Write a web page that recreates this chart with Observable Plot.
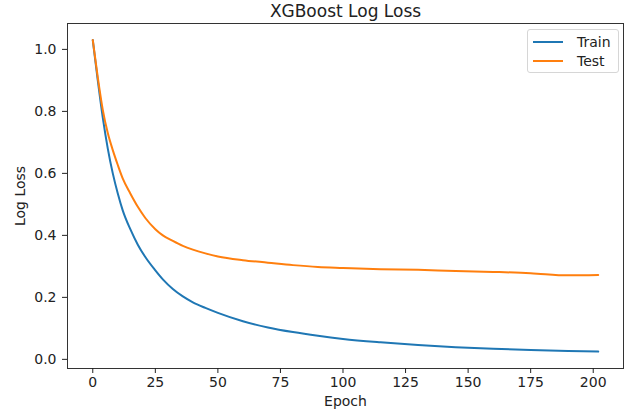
<!DOCTYPE html>
<html>
<head>
<meta charset="utf-8">
<script src="https://cdn.jsdelivr.net/npm/d3@7"></script>
<script src="https://cdn.jsdelivr.net/npm/@observablehq/plot@0.6"></script>
<style>
  html, body { margin: 0; padding: 0; background: #fff; }
  #wrap { position: relative; width: 624px; height: 411px; font-family: "DejaVu Sans", sans-serif; }
  #legend { position: absolute; left: 527px; top: 29px; width: 92px; height: 44px; box-sizing: border-box;
            border: 1px solid #d6d6d6; border-radius: 3px; background: rgba(255,255,255,0.85); font-size: 14px; color: #222; }
  .row { position: absolute; left: 5px; height: 18px; display: flex; align-items: center; }
  .sw { width: 30px; height: 0; border-top: 2px solid; margin-right: 14px; }
</style>
</head>
<body>
<div id="wrap"></div>
<script>
const title = "XGBoost Log Loss";
const xLabel = "Epoch";
const yLabel = "Log Loss";
const seriesNames = ["Train", "Test"];
const seriesColors = ["#1f77b4", "#ff7f0e"];
const epochs = [0, 2, 4, 6, 8, 10, 12, 15, 18, 21, 25, 28, 32, 36, 40, 45, 50, 60, 70, 80, 90, 100, 115, 130, 145, 160, 175, 190, 202];
const trainLoss = [1.03, 0.90, 0.78, 0.68, 0.60, 0.535, 0.48, 0.42, 0.37, 0.33, 0.287, 0.258, 0.227, 0.203, 0.184, 0.166, 0.150, 0.123, 0.103, 0.088, 0.076, 0.066, 0.055, 0.046, 0.039, 0.034, 0.030, 0.027, 0.025];
const testLoss = [1.03, 0.91, 0.805, 0.73, 0.675, 0.627, 0.583, 0.535, 0.492, 0.456, 0.42, 0.40, 0.382, 0.366, 0.354, 0.342, 0.332, 0.320, 0.312, 0.304, 0.298, 0.295, 0.291, 0.289, 0.285, 0.282, 0.278, 0.271, 0.272];
const xTicks = [0, 25, 50, 75, 100, 125, 150, 175, 200];
const yTicks = [0.0, 0.2, 0.4, 0.6, 0.8, 1.0];

const rows = [];
epochs.forEach((e, i) => {
  rows.push({epoch: e, loss: trainLoss[i], series: seriesNames[0]});
  rows.push({epoch: e, loss: testLoss[i], series: seriesNames[1]});
});

const chart = Plot.plot({
  width: 624,
  height: 411,
  marginLeft: 67,
  marginRight: 1,
  marginTop: 23,
  marginBottom: 43,
  style: {fontFamily: "DejaVu Sans, sans-serif", fontSize: "14px", color: "#222", background: "#fff", overflow: "visible"},
  x: {domain: [-10.1, 212.1]},
  y: {domain: [-0.0295, 1.0835]},
  color: {domain: seriesNames, range: seriesColors},
  marks: [
    Plot.frame({stroke: "#333", strokeWidth: 1}),
    Plot.axisX({ticks: xTicks, tickSize: 5, tickPadding: 4, tickFormat: d => String(d), label: xLabel, labelAnchor: "center", labelArrow: "none", labelOffset: 37, fontSize: 14}),
    Plot.axisY({ticks: yTicks, tickSize: 5, tickPadding: 6, tickFormat: d => d.toFixed(1), label: yLabel, labelAnchor: "center", labelArrow: "none", labelOffset: 52, fontSize: 14}),
    Plot.line(rows, {x: "epoch", y: "loss", z: "series", stroke: "series", strokeWidth: 2, curve: "monotone-x"}),
    Plot.text([title], {frameAnchor: "top", lineAnchor: "bottom", dy: -7, fontSize: 17, fill: "#222"})
  ]
});
const wrap = document.getElementById("wrap");
wrap.appendChild(chart);

const legend = document.createElement("div");
legend.id = "legend";
seriesNames.forEach((name, i) => {
  const row = document.createElement("div");
  row.className = "row";
  row.style.top = (3 + i * 19) + "px";
  const sw = document.createElement("span");
  sw.className = "sw";
  sw.style.borderColor = seriesColors[i];
  const t = document.createElement("span");
  t.textContent = name;
  row.appendChild(sw); row.appendChild(t);
  legend.appendChild(row);
});
wrap.appendChild(legend);
</script>
</body>
</html>
